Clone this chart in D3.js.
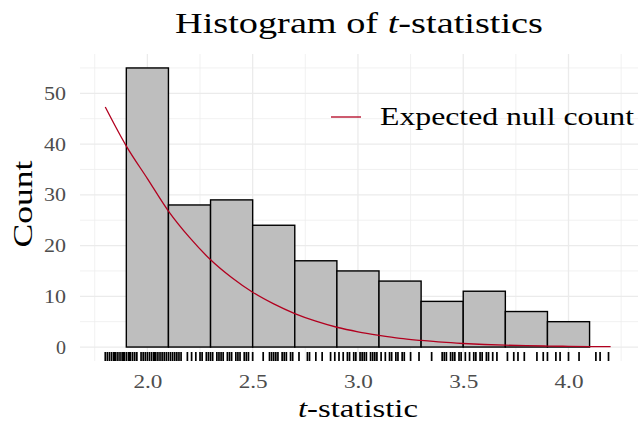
<!DOCTYPE html>
<html>
<head>
<meta charset="utf-8">
<script src="https://cdn.jsdelivr.net/npm/d3@7"></script>
<style>
  body { margin: 0; background: #fff; }
  text { font-family: "Liberation Serif", "DejaVu Serif", serif; }
</style>
</head>
<body>
<div id="plot"></div>
<script>
// histogram bins (left edge, right edge) and counts
var binStart = [1.9, 2.1, 2.3, 2.5, 2.7, 2.9, 3.1, 3.3, 3.5, 3.7, 3.9];
var binEnd   = [2.1, 2.3, 2.5, 2.7, 2.9, 3.1, 3.3, 3.5, 3.7, 3.9, 4.1];
var binCount = [55, 28, 29, 24, 17, 15, 13, 9, 11, 7, 5];

// expected null count curve
var nullT     = [1.8, 1.9, 2.0, 2.1, 2.2, 2.3, 2.4, 2.5, 2.6, 2.7, 2.8, 2.9, 3.0,
                 3.1, 3.2, 3.3, 3.4, 3.5, 3.6, 3.7, 3.8, 3.9, 4.0, 4.1, 4.2];
var nullCount = [47.3, 39.6, 33.2, 26.8, 21.6, 17.2, 13.7, 10.8, 8.5, 6.6, 5.1, 3.9, 3.0,
                 2.3, 1.7, 1.3, 0.95, 0.7, 0.5, 0.37, 0.27, 0.2, 0.14, 0.1, 0.07];

// observed t-statistics shown as rug
var rugT = [1.80, 1.81, 1.82, 1.83, 1.84, 1.845, 1.85, 1.86, 1.87, 1.88, 1.885, 1.89, 1.90,
  1.91, 1.915, 1.92, 1.93, 1.94, 1.95, 1.97, 1.98,
  1.99, 2.00, 2.01, 2.02, 2.03, 2.035, 2.04, 2.05, 2.06, 2.07, 2.08, 2.09, 2.10, 2.11,
  2.12, 2.13, 2.14, 2.15, 2.16,
  2.19, 2.21, 2.23, 2.25, 2.26,
  2.28, 2.29, 2.30, 2.31, 2.33, 2.34, 2.35, 2.36, 2.38, 2.39, 2.40, 2.42, 2.43, 2.44,
  2.46, 2.47, 2.48, 2.50, 2.55,
  2.58, 2.59, 2.60, 2.61, 2.62, 2.64, 2.65, 2.66, 2.68, 2.69, 2.72, 2.76,
  2.77, 2.80, 2.83, 2.87, 2.89, 2.91, 2.93,
  2.95, 2.96, 2.98, 2.99, 3.01, 3.02, 3.03, 3.04, 3.06, 3.07, 3.08, 3.09, 3.11,
  3.13, 3.15, 3.16, 3.18, 3.19, 3.21, 3.22, 3.25, 3.29, 3.35,
  3.40, 3.41, 3.42, 3.44, 3.45, 3.46, 3.48, 3.49, 3.51, 3.53, 3.55,
  3.56, 3.58, 3.59, 3.61, 3.62, 3.64, 3.66, 3.71, 3.74, 3.76, 3.79,
  3.85, 3.88, 3.90, 3.94, 3.96, 4.00, 4.05, 4.13, 4.15, 4.19];

var xTicks = [2.0, 2.5, 3.0, 3.5, 4.0];
var xMinor = [1.75, 2.25, 2.75, 3.25, 3.75, 4.25];
var yTicks = [0, 10, 20, 30, 40, 50];
var yMinor = [5, 15, 25, 35, 45, 55];

var svgWidth = 638;
var svgHeight = 421;
var panel = { left: 80, right: 638, top: 54, bottom: 361 };
var curveColor = "#b2001f";

var svg = d3.select("#plot")
  .append("svg")
  .attr("width", svgWidth)
  .attr("height", svgHeight);

var x = d3.scaleLinear()
  .domain([1.68, 4.33])
  .range([panel.left, panel.right]);

var y = d3.scaleLinear()
  .domain([-2.75, 57.75])
  .range([panel.bottom, panel.top]);

// grid
var grid = svg.append("g");
grid.selectAll(".ymin").data(yMinor).enter().append("line")
  .attr("x1", panel.left).attr("x2", panel.right)
  .attr("y1", d => y(d)).attr("y2", d => y(d))
  .attr("stroke", "#ededed").attr("stroke-width", 0.8);
grid.selectAll(".xmin").data(xMinor).enter().append("line")
  .attr("x1", d => x(d)).attr("x2", d => x(d))
  .attr("y1", panel.top).attr("y2", panel.bottom)
  .attr("stroke", "#ededed").attr("stroke-width", 0.8);
grid.selectAll(".ymaj").data(yTicks).enter().append("line")
  .attr("x1", panel.left).attr("x2", panel.right)
  .attr("y1", d => y(d)).attr("y2", d => y(d))
  .attr("stroke", "#ebebeb").attr("stroke-width", 1.3);
grid.selectAll(".xmaj").data(xTicks).enter().append("line")
  .attr("x1", d => x(d)).attr("x2", d => x(d))
  .attr("y1", panel.top).attr("y2", panel.bottom)
  .attr("stroke", "#ebebeb").attr("stroke-width", 1.3);

// bars
var bins = binStart.map((s, i) => ({ x0: s, x1: binEnd[i], n: binCount[i] }));
svg.append("g").selectAll("rect")
  .data(bins)
  .enter()
  .append("rect")
  .attr("x", d => x(d.x0))
  .attr("width", d => x(d.x1) - x(d.x0))
  .attr("y", d => y(d.n))
  .attr("height", d => y(0) - y(d.n))
  .attr("fill", "#bebebe")
  .attr("stroke", "#000")
  .attr("stroke-width", 1.4);

// expected null curve
var nullData = nullT.map((t, i) => ({ t: t, n: nullCount[i] }));
var line = d3.line()
  .x(d => x(d.t))
  .y(d => y(d.n))
  .curve(d3.curveMonotoneX);
svg.append("path")
  .datum(nullData)
  .attr("d", line)
  .attr("fill", "none")
  .attr("stroke", curveColor)
  .attr("stroke-width", 1.3);

// rug
svg.append("g").selectAll("line")
  .data(rugT)
  .enter()
  .append("line")
  .attr("x1", d => x(d)).attr("x2", d => x(d))
  .attr("y1", panel.bottom - 9).attr("y2", panel.bottom)
  .attr("stroke", "#000")
  .attr("stroke-width", 1.7);

// axes (labels only, theme_minimal has no axis lines)
var bottomAxis = d3.axisBottom(x).tickValues(xTicks).tickFormat(d3.format(".1f")).tickSize(0).tickPadding(14);
var leftAxis = d3.axisLeft(y).tickValues(yTicks).tickSize(0).tickPadding(14);

var gx = svg.append("g")
  .attr("transform", `translate(0, ${panel.bottom})`)
  .call(bottomAxis);
var gy = svg.append("g")
  .attr("transform", `translate(${panel.left}, 0)`)
  .call(leftAxis);
[gx, gy].forEach(function (g) {
  g.select(".domain").remove();
  g.selectAll("text")
    .attr("fill", "#4d4d4d")
    .style("font-family", "'Liberation Serif', serif")
    .style("font-size", "19px");
});
gy.selectAll("text").attr("textLength", d => d === 0 ? 10 : 22).attr("lengthAdjust", "spacingAndGlyphs");
gx.selectAll("text").attr("textLength", 29).attr("lengthAdjust", "spacingAndGlyphs");

// titles
svg.append("text")
  .attr("x", 359)
  .attr("y", 33)
  .attr("text-anchor", "middle")
  .attr("textLength", 368)
  .attr("lengthAdjust", "spacingAndGlyphs")
  .style("font-size", "30px")
  .html('Histogram of <tspan font-style="italic">t</tspan>-statistics');

svg.append("text")
  .attr("x", 358)
  .attr("y", 417)
  .attr("text-anchor", "middle")
  .attr("textLength", 120)
  .attr("lengthAdjust", "spacingAndGlyphs")
  .style("font-size", "25px")
  .html('<tspan font-style="italic">t</tspan>-statistic');

svg.append("text")
  .attr("transform", "rotate(-90)")
  .attr("x", -204)
  .attr("y", 32)
  .attr("text-anchor", "middle")
  .attr("textLength", 87)
  .attr("lengthAdjust", "spacingAndGlyphs")
  .style("font-size", "27px")
  .text("Count");

// legend
svg.append("line")
  .attr("x1", 331).attr("x2", 361)
  .attr("y1", 117).attr("y2", 117)
  .attr("stroke", curveColor)
  .attr("stroke-width", 1.3);
svg.append("text")
  .attr("x", 380)
  .attr("y", 125)
  .attr("textLength", 254)
  .attr("lengthAdjust", "spacingAndGlyphs")
  .style("font-size", "25px")
  .text("Expected null count");
</script>
</body>
</html>
